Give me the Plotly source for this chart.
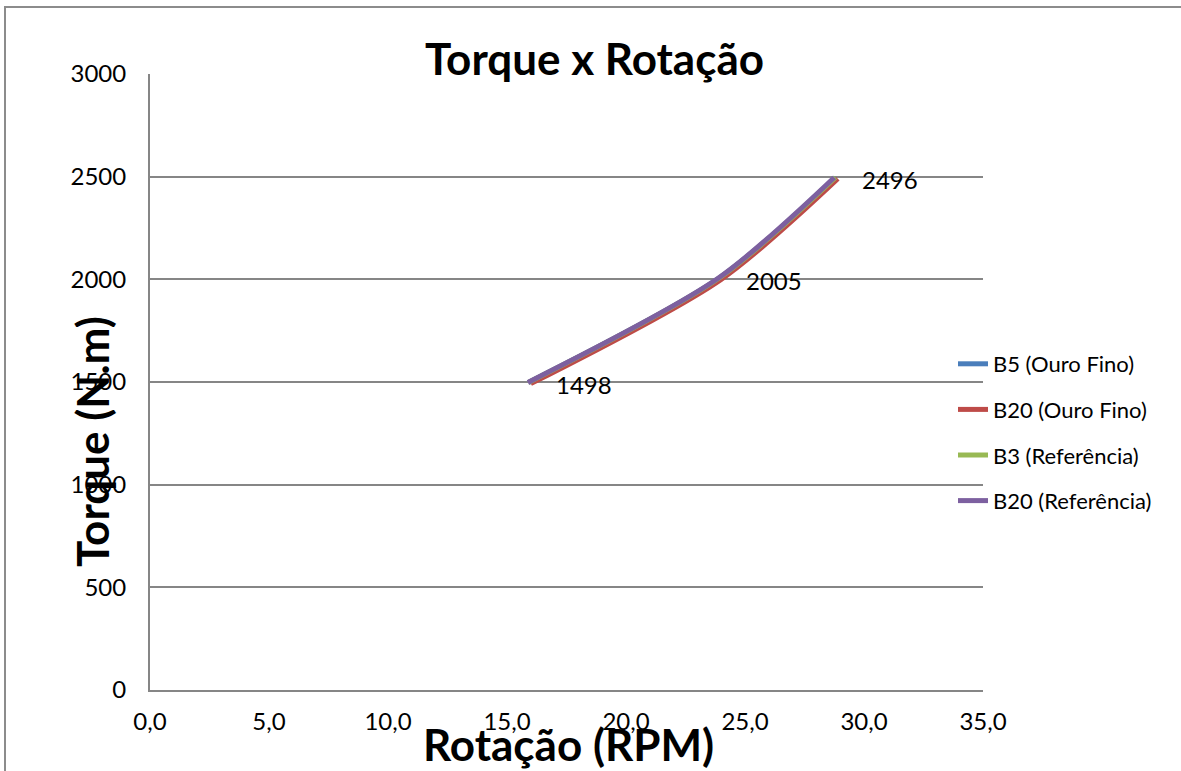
import plotly.graph_objects as go

# Rotação (RPM) and torque (N.m) for each biodiesel blend
rot_b5_ouro = [15.9, 23.9, 28.8]
tor_b5_ouro = [1498, 2005, 2496]

rot_b20_ouro = [16.0, 24.0, 28.9]
tor_b20_ouro = [1492, 2000, 2490]

rot_b3_ref = [15.9, 23.9, 28.8]
tor_b3_ref = [1498, 2005, 2496]

rot_b20_ref = [15.88, 23.87, 28.75]
tor_b20_ref = [1498, 2005, 2496]

series_names = ["B5 (Ouro Fino)", "B20 (Ouro Fino)", "B3 (Referência)", "B20 (Referência)"]
series_colors = ["#4a7ebb", "#be4b48", "#98b954", "#7d60a0"]

x_ticks = [0, 5, 10, 15, 20, 25, 30, 35]
x_tick_text = ["0,0", "5,0", "10,0", "15,0", "20,0", "25,0", "30,0", "35,0"]
y_ticks = [0, 500, 1000, 1500, 2000, 2500, 3000]

FONT = "Lato"
W, H = 1181, 771
L, R, T, B = 150, 198, 74, 81
PW, PH = W - L - R, H - T - B


def px_x(p):
    return (p - L) / PW


def px_y(p):
    return (H - B - p) / PH


fig = go.Figure()
data = [
    (rot_b5_ouro, tor_b5_ouro),
    (rot_b20_ouro, tor_b20_ouro),
    (rot_b3_ref, tor_b3_ref),
    (rot_b20_ref, tor_b20_ref),
]
for i, ((xs, ys), name, color) in enumerate(zip(data, series_names, series_colors)):
    fig.add_trace(go.Scatter(
        x=xs, y=ys, name=name, mode="lines",
        line=dict(color=color, width=5, shape="spline", smoothing=0.8),
        legendgroup=f"g{i}",
    ))

# value labels beside the points
for xv, yv in zip(rot_b20_ref, tor_b20_ref):
    fig.add_annotation(
        x=xv, y=yv, text=str(yv), showarrow=False,
        xanchor="left", yanchor="middle", xshift=26, yshift=-2,
        font=dict(family=FONT, size=24, color="black"),
    )

# chart title and axis titles
fig.add_annotation(
    x=px_x(594), y=px_y(58), xref="paper", yref="paper", text="<b>Torque x Rotação</b>",
    showarrow=False, xanchor="center", yanchor="middle",
    font=dict(family=FONT, size=44, color="black"),
)
fig.add_annotation(
    x=px_x(92), y=px_y(442), xref="paper", yref="paper", text="<b>Torque (N.m)</b>",
    showarrow=False, xanchor="center", yanchor="middle", textangle=-90,
    font=dict(family=FONT, size=44, color="black"),
)
fig.add_annotation(
    x=px_x(568), y=px_y(744), xref="paper", yref="paper", text="<b>Rotação (RPM)</b>",
    showarrow=False, xanchor="center", yanchor="middle",
    font=dict(family=FONT, size=44, color="black"),
)

# outer chart border
fig.add_shape(
    type="rect", xref="paper", yref="paper",
    x0=px_x(5), x1=px_x(1200), y0=px_y(800), y1=px_y(7),
    line=dict(color="#8c8c8c", width=2), fillcolor="rgba(0,0,0,0)", layer="below",
)

fig.update_layout(
    width=W, height=H,
    margin=dict(l=L, r=R, t=T, b=B, pad=0),
    paper_bgcolor="white", plot_bgcolor="white",
    font=dict(family=FONT, size=24, color="black"),
    showlegend=True,
    legend=dict(
        x=px_x(953), y=px_y(343), xanchor="left", yanchor="top",
        font=dict(family=FONT, size=22, color="black"),
        bgcolor="rgba(0,0,0,0)", traceorder="grouped", tracegroupgap=14,
        itemwidth=30,
    ),
    xaxis=dict(
        range=[0, 35], tickvals=x_ticks, ticktext=x_tick_text,
        showgrid=False, zeroline=False, showline=True, linecolor="#868686", linewidth=2,
        ticks="", ticklabelstandoff=9,
        tickfont=dict(family=FONT, size=24, color="black"),
    ),
    yaxis=dict(
        range=[0, 3000], tickvals=y_ticks,
        showgrid=True, gridcolor="#868686", gridwidth=1.5,
        zeroline=False, showline=True, linecolor="#868686", linewidth=2,
        ticks="", ticklabelstandoff=17,
        tickfont=dict(family=FONT, size=24, color="black"),
    ),
)

fig.write_html("out.html")
